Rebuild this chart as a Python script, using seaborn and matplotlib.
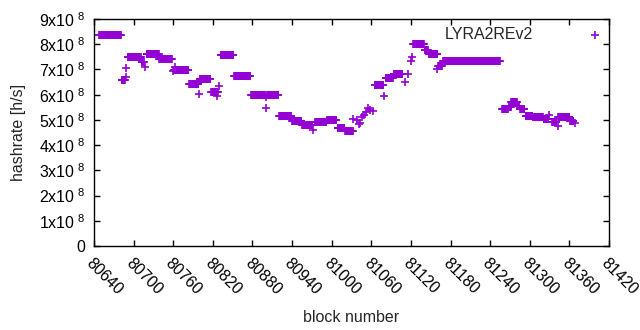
import numpy as np
import pandas as pd
import matplotlib
matplotlib.use('Agg')
import matplotlib.pyplot as plt
import seaborn as sns
from matplotlib.ticker import FuncFormatter, MultipleLocator

# plateaus of constant hashrate: first block, last block, value [1e8 h/s]
seg_start = [80648, 80682, 80691, 80712, 80720, 80739, 80761, 80784, 80800, 80817,
             80832, 80852, 80878, 80902, 80920, 80940, 80955, 80975, 80993, 81010,
             81020, 81065, 81082, 81094, 81123, 81141, 81147, 81161, 81169, 81258,
             81268, 81272, 81281, 81285, 81294, 81305, 81321, 81334, 81343, 81361]
seg_end = [80681, 80687, 80711, 80715, 80738, 80758, 80783, 80798, 80816, 80828,
           80851, 80877, 80899, 80919, 80939, 80954, 80970, 80992, 81007, 81019,
           81032, 81078, 81093, 81107, 81140, 81146, 81160, 81167, 81255, 81267,
           81271, 81280, 81284, 81292, 81304, 81320, 81327, 81340, 81360, 81366]
seg_value = [8.36, 6.60, 7.49, 7.30, 7.61, 7.41, 6.97, 6.42, 6.61, 6.12,
             7.57, 6.73, 5.98, 5.98, 5.15, 4.97, 4.80, 4.92, 4.99, 4.66,
             4.55, 6.38, 6.65, 6.80, 8.00, 7.79, 7.61, 7.14, 7.33, 5.42,
             5.53, 5.70, 5.55, 5.42, 5.15, 5.11, 5.05, 4.92, 5.11, 4.97]

# single blocks off the plateaus
pt_block = [80688, 80689, 80717, 80759, 80763, 80799, 80826, 80830, 80900, 80901,
            80972, 81009, 81033, 81038, 81041, 81043, 81046, 81049, 81052, 81055,
            81058, 81062, 81079, 81111, 81115, 81120, 81121, 81160, 81329, 81342,
            81368]
pt_value = [6.70, 7.05, 7.10, 6.92, 7.11, 6.03, 5.96, 6.35, 5.46, 5.90,
            4.58, 4.68, 5.04, 5.00, 4.84, 4.87, 5.10, 5.20, 5.30, 5.46,
            5.40, 5.36, 5.96, 6.50, 6.82, 7.35, 7.49, 7.01, 5.20, 4.76,
            4.88]

blocks, rates = [], []
for a, b, v in zip(seg_start, seg_end, seg_value):
    for blk in range(a, b + 1):
        blocks.append(blk)
        rates.append(v * 1e8)
blocks += pt_block
rates += [v * 1e8 for v in pt_value]
df = pd.DataFrame({'block': blocks, 'hashrate': rates}).sort_values('block')

sns.set_style('ticks')
plt.rcParams['font.family'] = ['Liberation Sans', 'DejaVu Sans']
plt.rcParams['mathtext.default'] = 'regular'
plt.rcParams['font.size'] = 11.5

purple = '#9400D3'
fig = plt.figure(figsize=(6.4, 3.3), dpi=100)
ax = fig.add_axes([94 / 640, 1 - 246 / 330, 515 / 640, 227 / 330])

sns.scatterplot(data=df, x='block', y='hashrate', marker='+', s=32,
                color=purple, linewidth=1.2, label='LYRA2REv2', ax=ax)

ax.set_xlim(80640, 81420)
ax.set_ylim(0, 9e8)
ax.xaxis.set_major_locator(MultipleLocator(60))
ax.yaxis.set_major_locator(MultipleLocator(1e8))


def yfmt(v, pos):
    n = int(round(v / 1e8))
    if n == 0:
        return '0'
    return f'{n}x10' + r'$^{\ 8}$'


ax.yaxis.set_major_formatter(FuncFormatter(yfmt))
ax.xaxis.set_major_formatter(FuncFormatter(lambda v, p: f'{int(v)}'))

ax.tick_params(direction='in', length=4, width=1, top=True, right=True,
               labelsize=11.5, colors='black')
ax.tick_params(axis='y', pad=6)
ax.tick_params(axis='x', pad=7)
for lbl in ax.get_xticklabels():
    lbl.set_rotation(-45)
    lbl.set_ha('left')
    lbl.set_va('top')
    lbl.set_rotation_mode('anchor')

for sp in ax.spines.values():
    sp.set_visible(True)
    sp.set_color('black')
    sp.set_linewidth(1)

ax.set_xlabel('block number', fontsize=11.5, labelpad=9)
ax.set_ylabel('hashrate [h/s]', fontsize=11.5, labelpad=10)

leg = ax.legend(loc='upper right', bbox_to_anchor=(0.988, 0.963), frameon=False,
                markerfirst=False, handlelength=1.0, handletextpad=3.4,
                borderpad=0, borderaxespad=0, fontsize=11.5)

fig.savefig('out.png', dpi=100)
